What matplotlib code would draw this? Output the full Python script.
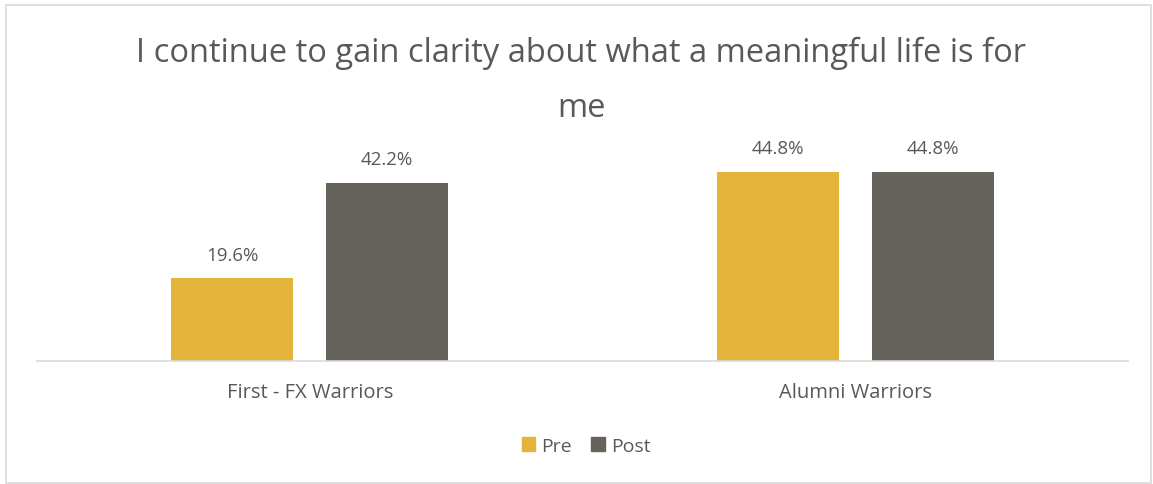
import matplotlib.pyplot as plt
from matplotlib.patches import Rectangle, Patch

categories = ["First - FX Warriors", "Alumni Warriors"]
series_names = ["Pre", "Post"]
pre_values = [19.6, 44.8]
post_values = [42.2, 44.8]
title_lines = ["I continue to gain clarity about what a meaningful life is for", "me"]

colors = {"Pre": "#E4B33A", "Post": "#66625C"}
text_color = "#595959"
plt.rcParams["font.family"] = ["Open Sans", "DejaVu Sans"]

W, H = 1153, 485
fig = plt.figure(figsize=(W / 100, H / 100), dpi=100)

# chart frame
fig.patches.append(Rectangle((6 / W, 1 / H), 1145 / W, 478 / H, transform=fig.transFigure,
                             fill=False, edgecolor="#D9D9D9", linewidth=1.2))

left, right, base, top = 37, 1128, 362, 151
ax = fig.add_axes([left / W, (H - base) / H, (right - left) / W, (base - top) / H])

x = list(range(len(categories)))
bw = 0.2237
off = 0.142
bars_pre = ax.bar([i - off for i in x], pre_values, bw, color=colors["Pre"], label="Pre")
bars_post = ax.bar([i + off for i in x], post_values, bw, color=colors["Post"], label="Post")

for bars, vals in ((bars_pre, pre_values), (bars_post, post_values)):
    for b, v in zip(bars, vals):
        ax.annotate(f"{v:.1f}%", (b.get_x() + b.get_width() / 2, v), xytext=(0, 13.5),
                    textcoords="offset points", ha="center", va="baseline",
                    fontsize=13.5, color=text_color)

ax.set_xlim(-0.5, 1.5)
ax.set_ylim(0, 50)
ax.set_yticks([])
ax.set_xticks(x)
ax.set_xticklabels(categories, fontsize=14.5, color=text_color)
ax.tick_params(axis="x", length=0, pad=15)
for s in ("top", "right", "left"):
    ax.spines[s].set_visible(False)
ax.spines["bottom"].set_color("#D9D9D9")
ax.spines["bottom"].set_linewidth(1.2)

for line, ybase in zip(title_lines, (62, 117)):
    fig.text(581 / W, 1 - ybase / H, line, ha="center", va="baseline",
             fontsize=23.5, color=text_color)

handles = [Patch(color=colors[n]) for n in series_names]
fig.legend(handles, series_names, loc="center", bbox_to_anchor=(586 / W, 1 - 447 / H),
           ncol=2, frameon=False, fontsize=14, labelcolor=text_color,
           handlelength=0.7, handleheight=0.7, handletextpad=0.3, columnspacing=1.0)

fig.savefig("out.png", dpi=100)
